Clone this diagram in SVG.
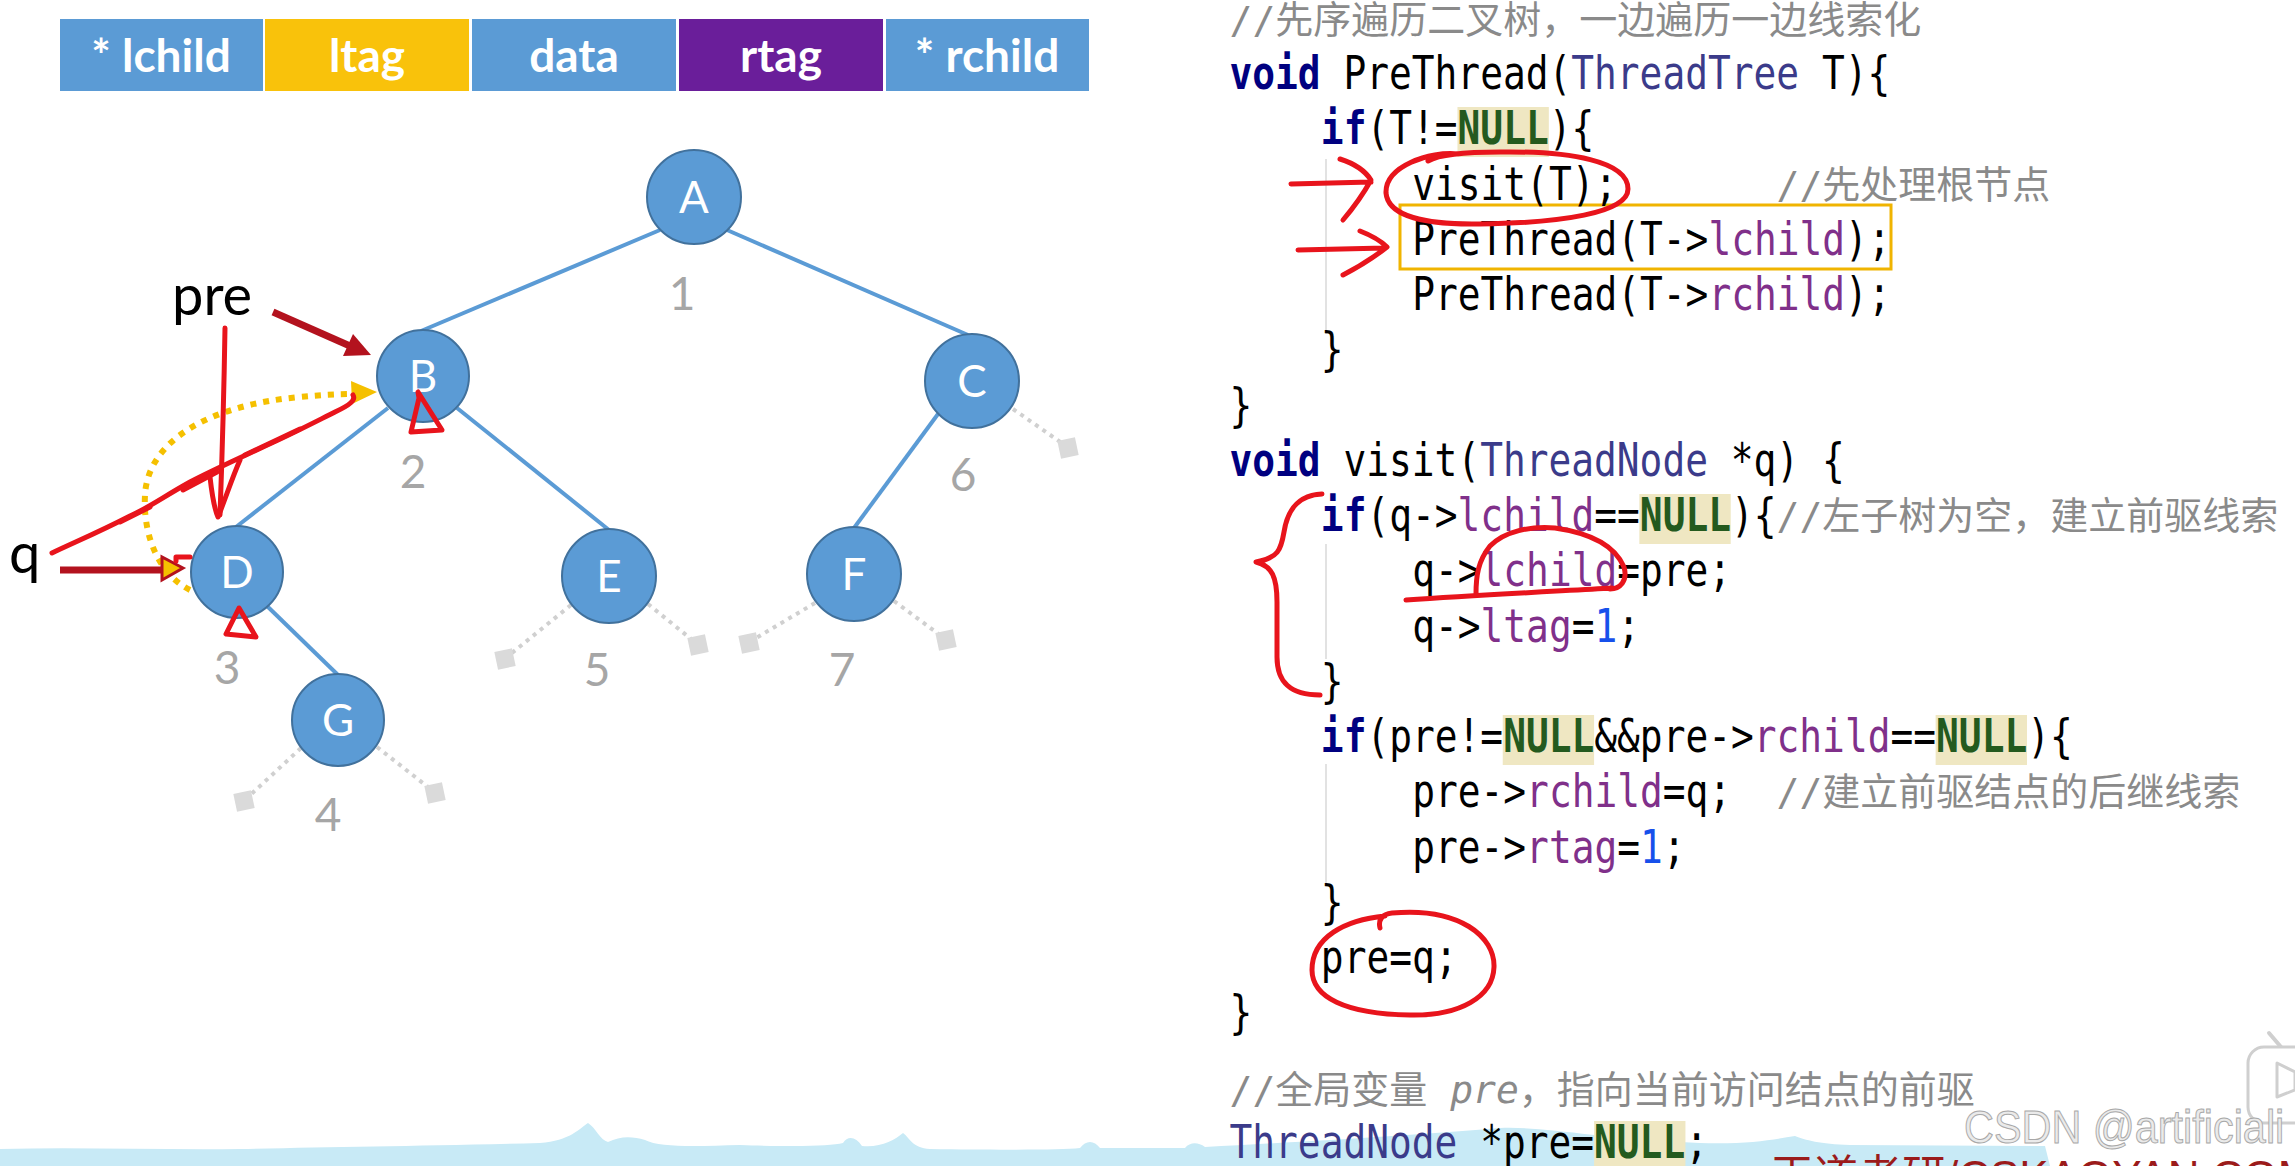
<svg xmlns="http://www.w3.org/2000/svg" width="2295" height="1166" viewBox="0 0 2295 1166">
<style>
.hdr{font-family:Lato,"Open Sans",sans-serif;font-weight:bold;font-size:46px;fill:#fff;text-anchor:middle}
.edge{stroke:#5b9bd5;stroke-width:4;fill:none}
.null{stroke:#d0d0d0;stroke-width:4;stroke-dasharray:4 5;fill:none}
.sq{fill:#dadada}
.nd{fill:#5b9bd5;stroke:#41719c;stroke-width:2}
.lt{font-family:Lato,"Open Sans",sans-serif;font-size:44px;fill:#fff;text-anchor:middle}
.num{font-family:Lato,"Open Sans",sans-serif;font-size:46px;fill:#a6a6a6;text-anchor:middle}
.lbl{font-family:Lato,"Open Sans",sans-serif;font-size:56px;fill:#000}
.code{font-family:"DejaVu Sans Mono","Noto Sans CJK SC",monospace;font-size:46px;fill:#000;white-space:pre}
.cmt{font-family:"DejaVu Sans Mono","Noto Sans CJK SC",monospace;font-size:38px;fill:#8a8a8a;white-space:pre}
.kw{fill:#000080;font-weight:bold}
.ty{fill:#3b3b8a}
.fd{fill:#80308a}
.nl{fill:#245a1e;font-weight:bold}
.n1{fill:#1750eb}
.hl{fill:#efe7c2}
.red{stroke:#e8141c;stroke-width:5;fill:none;stroke-linecap:round;stroke-linejoin:round}
.dred{stroke:#b3121e;stroke-width:7;fill:none}
.guide{stroke:#e2e2e2;stroke-width:2}
</style>

<rect width="2295" height="1166" fill="#fff"/>

<!-- page band (behind text) -->
<path d="M0,1149 C80,1147 160,1150 240,1149 C330,1147 420,1146 540,1143 C570,1141 580,1128 588,1123 C596,1128 600,1140 608,1142 C620,1136 632,1136 645,1140 C660,1148 700,1146 740,1145 C800,1147 830,1146 843,1143 C848,1135 856,1137 862,1146 C880,1148 895,1140 903,1133 C910,1138 912,1148 930,1149 C1000,1150 1060,1150 1080,1148 C1086,1140 1094,1140 1100,1148 L1185,1148 C1190,1142 1198,1142 1205,1147 C1300,1142 1420,1135 1500,1128 C1540,1126 1600,1138 1680,1142 C1740,1146 1770,1140 1795,1136 C1805,1140 1820,1144 1850,1145 L2045,1146 L2050,1166 L0,1166 Z" fill="#c8eaf6"/>

<!-- header field bar -->
<g id="fields">
<rect x="60" y="19" width="203" height="72" fill="#5b9bd5"/>
<rect x="265" y="19" width="204" height="72" fill="#f9c20b"/>
<rect x="472" y="19" width="204" height="72" fill="#5b9bd5"/>
<rect x="679" y="19" width="204" height="72" fill="#6a1e9a"/>
<rect x="886" y="19" width="203" height="72" fill="#5b9bd5"/>
<text class="hdr" x="161" y="72">* lchild</text>
<text class="hdr" x="367" y="72">ltag</text>
<text class="hdr" x="574" y="72">data</text>
<text class="hdr" x="781" y="72">rtag</text>
<text class="hdr" x="987" y="72">* rchild</text>
</g>

<!-- connectors -->
<g id="connectors">
<line class="edge" x1="660" y1="230" x2="421" y2="331"/>
<line class="edge" x1="727" y1="230" x2="968" y2="335"/>
<line class="edge" x1="388" y1="408" x2="236" y2="527"/>
<line class="edge" x1="457" y1="408" x2="609" y2="530"/>
<line class="edge" x1="938" y1="414" x2="854" y2="528"/>
<line class="edge" x1="267" y1="606" x2="338" y2="675"/>
<line class="null" x1="1013" y1="409" x2="1066" y2="446"/>
<line class="null" x1="571" y1="605" x2="507" y2="657"/>
<line class="null" x1="648" y1="604" x2="696" y2="643"/>
<line class="null" x1="815" y1="603" x2="751" y2="641"/>
<line class="null" x1="894" y1="601" x2="944" y2="638"/>
<line class="null" x1="301" y1="748" x2="246" y2="799"/>
<line class="null" x1="377" y1="747" x2="433" y2="791"/>
<rect class="sq" x="1059" y="439" width="18" height="18" transform="rotate(-12 1068 448)"/>
<rect class="sq" x="496" y="650" width="18" height="18" transform="rotate(-12 505 659)"/>
<rect class="sq" x="689" y="636" width="18" height="18" transform="rotate(-12 698 645)"/>
<rect class="sq" x="740" y="634" width="18" height="18" transform="rotate(-12 749 643)"/>
<rect class="sq" x="937" y="631" width="18" height="18" transform="rotate(-12 946 640)"/>
<rect class="sq" x="235" y="792" width="18" height="18" transform="rotate(-12 244 801)"/>
<rect class="sq" x="426" y="784" width="18" height="18" transform="rotate(-12 435 793)"/>
</g>

<g id="node-A"><circle class="nd" cx="694" cy="197" r="47"/><text class="lt" x="694" y="213">A</text><text class="num" x="682" y="310">1</text></g>
<g id="node-B"><circle class="nd" cx="423" cy="376" r="46"/><text class="lt" x="423" y="392">B</text><text class="num" x="413" y="488">2</text></g>
<g id="node-C"><circle class="nd" cx="972" cy="381" r="47"/><text class="lt" x="972" y="397">C</text><text class="num" x="963" y="491">6</text></g>
<g id="node-D"><circle class="nd" cx="237" cy="572" r="46"/><text class="lt" x="237" y="588">D</text><text class="num" x="227" y="684">3</text></g>
<g id="node-E"><circle class="nd" cx="609" cy="576" r="47"/><text class="lt" x="609" y="592">E</text><text class="num" x="597" y="686">5</text></g>
<g id="node-F"><circle class="nd" cx="854" cy="574" r="47"/><text class="lt" x="854" y="590">F</text><text class="num" x="842" y="686">7</text></g>
<g id="node-G"><circle class="nd" cx="338" cy="720" r="46"/><text class="lt" x="338" y="736">G</text><text class="num" x="328" y="831">4</text></g>

<!-- pointer labels and arrows -->
<g id="pointers">
<text class="lbl" x="172" y="315">pre</text>
<text class="lbl" x="9" y="573">q</text>
<path d="M190,590 C155,572 143,530 145,495 C148,440 210,405 300,397 C320,395 338,394 352,394" fill="none" stroke="#f5c000" stroke-width="6" stroke-dasharray="6 7"/>
<polygon points="351,381 377,392 352,404" fill="#f5c000"/>
<line class="dred" x1="273" y1="312" x2="350" y2="346"/>
<polygon points="371,355 343,356 353,334" fill="#b3121e"/>
<line class="dred" x1="60" y1="570" x2="164" y2="570" stroke-width="6"/>
<polygon points="183,568 162,557 162,580" fill="#f5c000" stroke="#b3121e" stroke-width="3"/>
<path class="red" d="M176,561 L176,557 L190,557" stroke-width="3"/>
</g>

<!-- hand-drawn marks on tree -->
<g id="marks-tree">
<path class="red" d="M225,328 C224,390 222,460 220,515"/>
<path class="red" d="M210,477 C212,495 214,508 218,517 C225,500 232,478 240,460"/>
<path class="red" d="M52,553 C75,542 97,533 130,516 C150,507 163,497 190,482 C215,469 240,458 263,447 C290,435 313,423 335,412 C350,405 356,400 353,395" stroke-width="8"/>
<path class="red" d="M183,490 L217,472" stroke-width="12"/>
<path class="red" d="M245,455 L300,429" stroke-width="10"/>
<path class="red" d="M120,522 L150,507" stroke-width="10"/>
<path class="red" d="M418,392 L419,398 L411,432 L442,430 Z"/>
<path class="red" d="M239,608 L226,634 L256,637 Z" stroke-width="6"/>
</g>

<!-- code -->
<g id="code">
<line class="guide" x1="1326" y1="159" x2="1326" y2="334"/>
<line class="guide" x1="1326" y1="544" x2="1326" y2="659"/>
<line class="guide" x1="1326" y1="764" x2="1326" y2="884"/>
<rect x="1400" y="205" width="491" height="64" fill="none" stroke="#f0b400" stroke-width="3"/>
<g transform="translate(1229.5,0) scale(0.823,1)">
<rect class="hl" x="277" y="107" width="111" height="50"/>
<rect class="hl" x="498" y="494" width="111" height="50"/>
<rect class="hl" x="332" y="715" width="111" height="50"/>
<rect class="hl" x="858" y="715" width="111" height="50"/>
<rect class="hl" x="443" y="1121" width="111" height="50"/>
<text class="code" x="0" y="89"><tspan class="kw">void</tspan> PreThread(<tspan class="ty">ThreadTree</tspan> T){</text>
<text class="code" x="111" y="144"><tspan class="kw">if</tspan>(T!=<tspan class="nl">NULL</tspan>){</text>
<text class="code" x="222" y="200">visit(T);</text>
<text class="code" x="222" y="255">PreThread(T-&gt;<tspan class="fd">lchild</tspan>);</text>
<text class="code" x="222" y="310">PreThread(T-&gt;<tspan class="fd">rchild</tspan>);</text>
<text class="code" x="111" y="365">}</text>
<text class="code" x="0" y="421">}</text>
<text class="code" x="0" y="476"><tspan class="kw">void</tspan> visit(<tspan class="ty">ThreadNode</tspan> *q) {</text>
<text class="code" x="111" y="531"><tspan class="kw">if</tspan>(q-&gt;<tspan class="fd">lchild</tspan>==<tspan class="nl">NULL</tspan>){</text>
<text class="code" x="222" y="586">q-&gt;<tspan class="fd">lchild</tspan>=pre;</text>
<text class="code" x="222" y="642">q-&gt;<tspan class="fd">ltag</tspan>=<tspan class="n1">1</tspan>;</text>
<text class="code" x="111" y="697">}</text>
<text class="code" x="111" y="752"><tspan class="kw">if</tspan>(pre!=<tspan class="nl">NULL</tspan>&amp;&amp;pre-&gt;<tspan class="fd">rchild</tspan>==<tspan class="nl">NULL</tspan>){</text>
<text class="code" x="222" y="807">pre-&gt;<tspan class="fd">rchild</tspan>=q;</text>
<text class="code" x="222" y="863">pre-&gt;<tspan class="fd">rtag</tspan>=<tspan class="n1">1</tspan>;</text>
<text class="code" x="111" y="918">}</text>
<text class="code" x="111" y="973">pre=q;</text>
<text class="code" x="0" y="1028">}</text>
<text class="code" x="0" y="1158"><tspan class="ty">ThreadNode</tspan> *pre=<tspan class="nl">NULL</tspan>;</text>
</g>
<text class="cmt" x="1229.5" y="33">//先序遍历二叉树，一边遍历一边线索化</text>
<text class="cmt" x="1776.5" y="198">//先处理根节点</text>
<text class="cmt" x="1776.5" y="529">//左子树为空，建立前驱线索</text>
<text class="cmt" x="1776.5" y="805">//建立前驱结点的后继线索</text>
<text class="cmt" x="1229.5" y="1103">//全局变量 <tspan font-style="italic">pre</tspan>，指向当前访问结点的前驱</text>
</g>

<!-- hand-drawn marks on code -->
<g id="marks-code">
<path class="red" d="M1291,184 L1371,182 M1340,159 Q1362,166 1371,180 Q1360,200 1343,220" stroke-width="7"/>
<path class="red" d="M1298,250 L1385,248 M1360,231 Q1378,238 1387,247 Q1368,262 1343,275" stroke-width="6"/>
<path class="red" d="M1458,154 C1430,151 1385,166 1386,193 C1388,216 1425,225 1480,224 C1560,223 1628,213 1628,189 C1628,161 1570,151 1500,152 C1470,152 1440,154 1428,161" stroke-width="6"/>
<path class="red" d="M1406,600 C1480,595 1560,591 1612,588 M1476,594 C1476,576 1478,561 1490,546 C1505,531 1530,526 1555,528 C1590,533 1615,546 1624,567 C1628,581 1620,589 1610,589"/>
<path class="red" d="M1322,494 C1300,495 1288,507 1284,532 C1281,550 1278,558 1256,562 C1272,566 1277,577 1277,602 L1277,657 C1277,682 1290,695 1320,695"/>
<path class="red" d="M1380,928 C1378,920 1382,914 1392,913 C1460,907 1495,937 1494,967 C1493,997 1460,1016 1410,1015 C1345,1014 1312,997 1312,970 C1312,937 1345,920 1385,916"/>
</g>

<!-- page decorations -->
<line x1="2269" y1="1033" x2="2281" y2="1047" stroke="#cfcfcf" stroke-width="4" stroke-linecap="round"/>
<rect x="2248" y="1047" width="90" height="76" rx="16" fill="#fff" stroke="#cfcfcf" stroke-width="3"/>
<path d="M2277,1063 L2295,1072 L2295,1090 L2277,1097 Z" fill="none" stroke="#cfcfcf" stroke-width="3" stroke-linejoin="round"/>
<text x="1770" y="1192" font-family="'Liberation Sans','Noto Sans CJK SC',sans-serif" font-size="44" fill="#9b1b1b">王道考研/CSKAOYAN.COM</text>
<text x="1964" y="1143" font-family="'Liberation Sans',sans-serif" font-size="46" fill="#eaeaea" stroke="#a8a8a8" stroke-width="1" transform="translate(1964,0) scale(0.9,1) translate(-1964,0)">CSDN @artificiali</text>
</svg>
